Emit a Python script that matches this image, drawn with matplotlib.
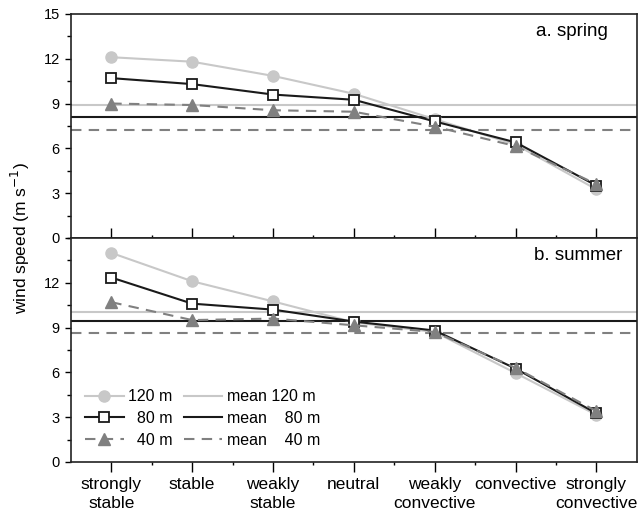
import matplotlib.pyplot as plt
from matplotlib.ticker import MultipleLocator, FixedLocator
import numpy as np

plt.rcParams['font.family'] = ['Liberation Sans', 'DejaVu Sans']

categories = ['strongly\nstable', 'stable', 'weakly\nstable', 'neutral',
              'weakly\nconvective', 'convective', 'strongly\nconvective']

# spring
spring_120 = [12.1, 11.8, 10.85, 9.65, 7.95, 6.25, 3.25]
spring_80 = [10.7, 10.3, 9.6, 9.25, 7.8, 6.4, 3.5]
spring_40 = [9.0, 8.9, 8.55, 8.45, 7.45, 6.15, 3.6]
spring_mean = {'120': 8.9, '80': 8.08, '40': 7.2}

# summer
summer_120 = [14.0, 12.1, 10.75, 9.35, 8.7, 5.95, 3.15]
summer_80 = [12.35, 10.6, 10.2, 9.4, 8.8, 6.25, 3.25]
summer_40 = [10.7, 9.5, 9.6, 9.15, 8.7, 6.3, 3.4]
summer_mean = {'120': 10.05, '80': 9.45, '40': 8.65}

c120 = '#c8c8c8'
c80 = '#1a1a1a'
c40 = '#808080'
dash = (0, (5, 3.5))

fig = plt.figure(figsize=(6.44, 5.15), dpi=100)
ax1 = fig.add_axes([0.110, 0.538, 0.879, 0.435])
ax2 = fig.add_axes([0.110, 0.103, 0.879, 0.435])

x = np.arange(len(categories))


def draw(ax, v120, v80, v40, means):
    ax.axhline(means['120'], color=c120, lw=1.5, zorder=1, label='mean 120 m')
    ax.axhline(means['80'], color=c80, lw=1.5, zorder=1, label='mean\u2007\u200780 m')
    ax.axhline(means['40'], color=c40, lw=1.5, ls=dash, zorder=1,
               label='mean\u2007\u200740 m')
    ax.plot(x, v120, color=c120, lw=1.5, marker='o', ms=8, mec=c120, mfc=c120,
            zorder=3, label='120 m')
    ax.plot(x, v80, color=c80, lw=1.5, marker='s', ms=7, mec=c80, mfc='white',
            mew=1.3, zorder=4, label='\u200780 m')
    ax.plot(x, v40, color=c40, lw=1.5, ls=dash, marker='^', ms=9,
            mec=c40, mfc=c40, zorder=5, label='\u200740 m')
    ax.set_xlim(-0.5, 6.5)
    ax.set_ylim(0, 15)
    ax.yaxis.set_major_locator(MultipleLocator(3))
    ax.yaxis.set_minor_locator(MultipleLocator(1.5))
    ax.xaxis.set_major_locator(FixedLocator(x))
    ax.xaxis.set_minor_locator(FixedLocator(x[:-1] + 0.5))
    ax.tick_params(axis='y', which='major', direction='out', length=4.5,
                   width=1, labelsize=10.5)
    ax.tick_params(axis='y', which='minor', direction='out', length=3, width=1)
    for s in ax.spines.values():
        s.set_linewidth(1.2)
        s.set_color('#222222')


draw(ax1, spring_120, spring_80, spring_40, spring_mean)
draw(ax2, summer_120, summer_80, summer_40, summer_mean)

ax1.set_yticks([0, 3, 6, 9, 12, 15])
ax1.tick_params(axis='x', which='major', direction='in', length=7, width=1,
                labelbottom=False)
ax1.tick_params(axis='x', which='minor', direction='in', length=2, width=1)
ax1.text(0.948, 0.92, 'a. spring', transform=ax1.transAxes, ha='right',
         va='center', fontsize=13.5)

ax2.set_yticks([0, 3, 6, 9, 12])
ax2.tick_params(axis='x', which='major', direction='out', length=7, width=1,
                labelsize=12.5, pad=4)
ax2.tick_params(axis='x', which='minor', direction='out', length=2, width=1)
ax2.set_xticklabels(categories, linespacing=1.35)
for lab in ax2.get_xticklabels():
    lab.set_verticalalignment('top')
ax2.text(0.975, 0.92, 'b. summer', transform=ax2.transAxes, ha='right',
         va='center', fontsize=13.5)

h, l = ax2.get_legend_handles_labels()
order = [3, 4, 5, 0, 1, 2]
ax2.legend([h[i] for i in order], [l[i] for i in order], ncol=2, loc='lower left',
           bbox_to_anchor=(0.0, 0.0), frameon=False, fontsize=11.5,
           handlelength=2.4, columnspacing=0.7, handletextpad=0.3,
           labelspacing=0.42)

fig.text(0.032, 0.538, 'wind speed (m s$^{-1}$)', rotation=90, ha='center',
         va='center', fontsize=12.5)

fig.savefig('out.png', dpi=100)
